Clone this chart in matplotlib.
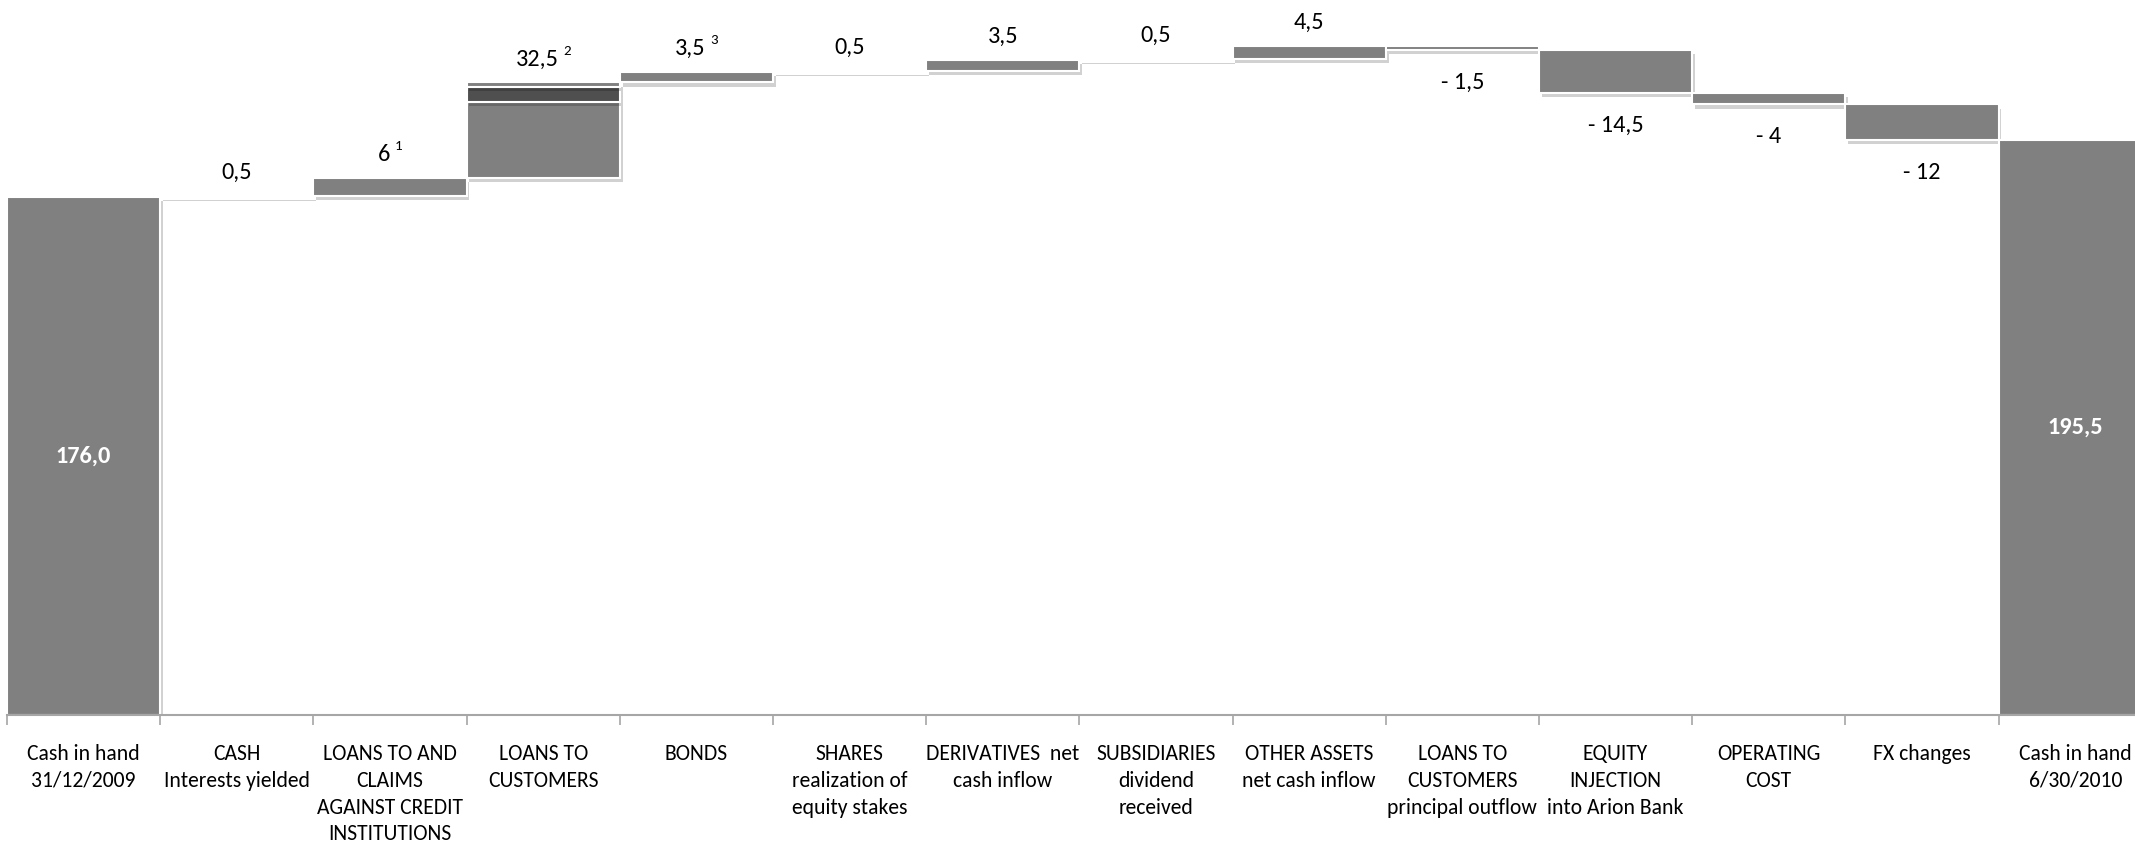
import matplotlib
matplotlib.use('Agg')
import matplotlib.pyplot as plt
import matplotlib.patheffects as pe
from matplotlib import font_manager
import numpy as np

# ---------------- data ----------------
categories = [
    "Cash in hand\n31/12/2009",
    "CASH\nInterests yielded",
    "LOANS TO AND\nCLAIMS\nAGAINST CREDIT\nINSTITUTIONS",
    "LOANS TO\nCUSTOMERS",
    "BONDS",
    "SHARES\nrealization of\nequity stakes",
    "DERIVATIVES  net\ncash inflow",
    "SUBSIDIARIES\ndividend\nreceived",
    "OTHER ASSETS\nnet cash inflow",
    "LOANS TO\nCUSTOMERS\nprincipal outflow",
    "EQUITY\nINJECTION\ninto Arion Bank",
    "OPERATING\nCOST",
    "FX changes",
    "Cash in hand\n6/30/2010",
]
start_value = 176.0
changes = [0.5, 6, 32.5, 3.5, 0.5, 3.5, 0.5, 4.5, -1.5, -14.5, -4, -12]
end_value = 195.5
footnotes = ["", "1", "2", "3", "", "", "", "", "", "", "", ""]
loans_split = [26.0, 5.0, 1.5]          # segments of "LOANS TO CUSTOMERS"
loans_split_colors = ["#808080", "#4f4f4f", "#808080"]

# ---------------- style ----------------
avail = {f.name for f in font_manager.fontManager.ttflist}
condensed = None
for cand in ["Carlito", "Roboto Condensed", "Open Sans Condensed", "Liberation Sans Narrow",
             "DejaVu Sans Condensed", "Arial Narrow"]:
    if cand in avail:
        condensed = cand
        break
if condensed:
    plt.rcParams['font.family'] = [condensed, "DejaVu Sans"]
    tick_fs, val_fs = 15.6, 17.5
else:
    plt.rcParams['font.family'] = ["Liberation Sans", "DejaVu Sans"]
    tick_fs, val_fs = 13.2, 16

BAR = "#808080"
EDGE = "white"
shadow = [pe.SimplePatchShadow(offset=(2, -3), shadow_rgbFace="#000000", alpha=0.18), pe.Normal()]

DPI = 100
fig = plt.figure(figsize=(21.35, 8.42), dpi=DPI)
ax = fig.add_axes([7 / 2135, 127 / 842, 14 * 153.2 / 2135, 715 / 842])
ax.set_xlim(-0.5, len(categories) - 0.5)
ax.set_ylim(0, 243)
renderer = fig.canvas.get_renderer()

n = len(categories)
x = np.arange(n)

def fmt(v, dec=None):
    s = (f"{abs(v):.{dec}f}" if dec is not None else f"{abs(v):g}").replace('.', ',')
    return ("- " + s) if v < 0 else s

def text_width_pt(s, fs):
    t = fig.text(0, 0, s, fontsize=fs)
    w = t.get_window_extent(renderer=renderer).width
    t.remove()
    return w * 72.0 / DPI

def value_label(xc, yc, main, sup):
    if not sup:
        ax.text(xc, yc, main, ha='center', va='center', fontsize=val_fs, zorder=5)
        return
    sup_fs = val_fs * 0.62
    w_main = text_width_pt(main, val_fs)
    w_sup = text_width_pt(sup, sup_fs)
    gap = 3.5
    total = w_main + gap + w_sup
    ax.annotate(main, (xc, yc), xytext=(-total / 2 + w_main / 2, 0), textcoords='offset points',
                ha='center', va='center', fontsize=val_fs, zorder=5)
    ax.annotate(sup, (xc, yc), xytext=(-total / 2 + w_main + gap, 1.5), textcoords='offset points',
                ha='left', va='bottom', fontsize=sup_fs, zorder=5)

# start bar
ax.bar(0, start_value, width=1.0, color=BAR, edgecolor=EDGE, linewidth=1.5, path_effects=shadow, zorder=2)
ax.text(0, start_value / 2, fmt(start_value, 1), ha='center', va='center', color='white',
        fontsize=val_fs, fontweight='bold', zorder=5)

cum = start_value
for i, v in enumerate(changes):
    xi = i + 1
    if v >= 0:
        bottom = cum
        if categories[xi] == "LOANS TO\nCUSTOMERS":
            b = bottom
            for seg, col in zip(loans_split, loans_split_colors):
                ax.bar(xi, seg, bottom=b, width=1.0, color=col, edgecolor=EDGE, linewidth=1.5,
                       path_effects=shadow, zorder=2)
                b += seg
        else:
            ax.bar(xi, v, bottom=bottom, width=1.0, color=BAR, edgecolor=EDGE, linewidth=1.5,
                   path_effects=shadow, zorder=2)
        cum += v
        value_label(xi, cum + 8, fmt(v), footnotes[i])
    else:
        cum += v
        ax.bar(xi, -v, bottom=cum, width=1.0, color=BAR, edgecolor=EDGE, linewidth=1.5,
               path_effects=shadow, zorder=2)
        ax.text(xi, cum - 11, fmt(v), ha='center', va='center', fontsize=val_fs, zorder=5)

# end bar
ax.bar(n - 1, end_value, width=1.0, color=BAR, edgecolor=EDGE, linewidth=1.5, path_effects=shadow, zorder=2)
ax.text(n - 1, end_value / 2, fmt(end_value, 1), ha='center', va='center', color='white',
        fontsize=val_fs, fontweight='bold', zorder=5)

# axes
ax.set_xlim(-0.5, n - 0.5)
ax.set_ylim(0, 243)
for s in ['top', 'right', 'left']:
    ax.spines[s].set_visible(False)
ax.spines['bottom'].set_color('#a6a6a6')
ax.spines['bottom'].set_linewidth(1.5)
ax.set_yticks([])
ax.set_xticks(np.arange(n + 1) - 0.5)
ax.set_xticklabels([])
ax.tick_params(axis='x', which='major', length=7, width=1.2, color='#a6a6a6', direction='out')
ax.set_xticks(x, minor=True)
ax.set_xticklabels(categories, minor=True, fontsize=tick_fs, linespacing=1.42)
ax.tick_params(axis='x', which='minor', length=0, pad=21)

fig.savefig("out.png", dpi=DPI, facecolor='white')
